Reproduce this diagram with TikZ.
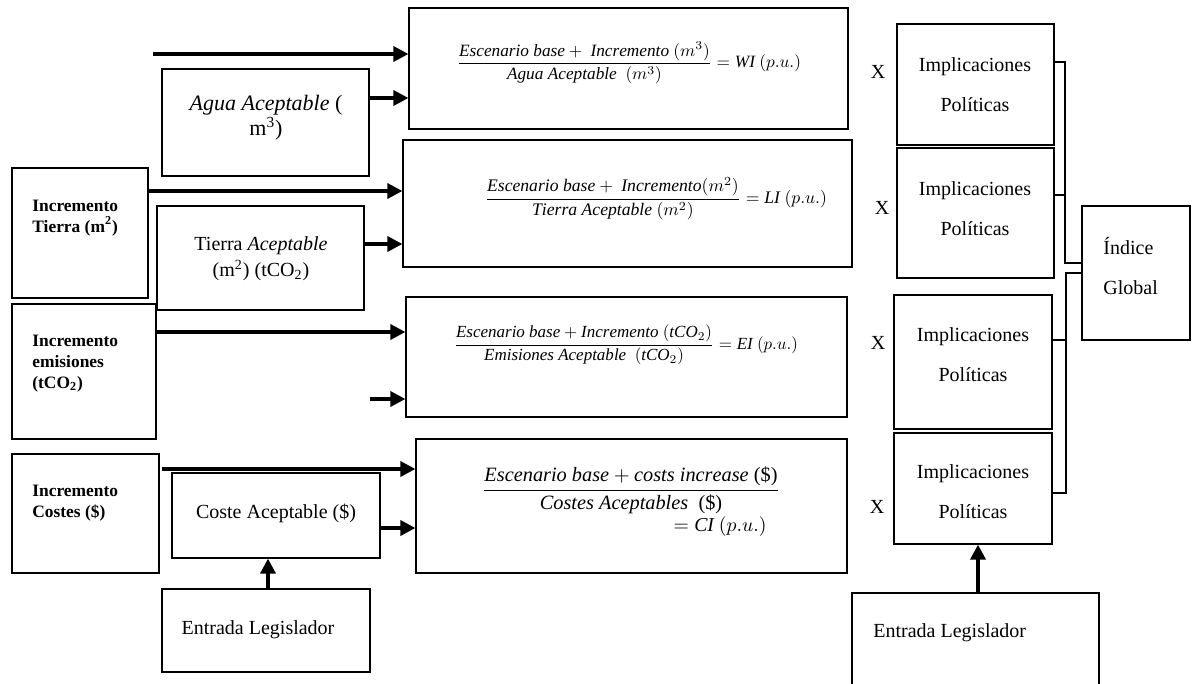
\documentclass[tikz,border=0pt]{standalone}
\usepackage{amsmath}
\usepackage{graphicx}
\usepackage{fontspec}
\setmainfont{Liberation Serif}
\usetikzlibrary{arrows.meta,fit,calc}
\tikzset{
  box/.style={draw, line width=0.6pt, inner sep=0pt},
  txt/.style={inner sep=0pt, font=\fontsize{10}{12}\selectfont, align=center},
  bold/.style={inner sep=0pt, font=\fontsize{8.7}{10.5}\selectfont\bfseries, align=left},
  arr/.style={line width=1.7pt, -{Triangle[length=7.5pt,width=7.5pt]}},
  conn/.style={line width=0.6pt}
}
\begin{document}
\begin{tikzpicture}[x=0.5pt,y=-0.5pt]
\useasboundingbox (0,0) rectangle (1192,684);
\clip (0,0) rectangle (1192,684);
% boxes
\node[box, fit={(409,8)(848,129)}] (wi) {};
\node[box, fit={(403,140)(852,267)}] (li) {};
\node[box, fit={(406,297)(847,417)}] (ei) {};
\node[box, fit={(416,439)(847,573)}] (ci) {};
\node[box, fit={(162,69)(369,176)}] (agua) {};
\node[box, fit={(12,168)(148,298)}] (itierra) {};
\node[box, fit={(157,206)(364,310)}] (tacc) {};
\node[box, fit={(12,304)(156,439)}] (iemis) {};
\node[box, fit={(12,454)(159,573)}] (icost) {};
\node[box, fit={(172,473)(380,558)}] (coste) {};
\node[box, fit={(162,589)(370,672)}] (entL) {};
\node[box, fit={(897,24)(1054,145)}] (imp1) {};
\node[box, fit={(897,148)(1054,278)}] (imp2) {};
\node[box, fit={(894,295)(1052,429)}] (imp3) {};
\node[box, fit={(894,433)(1052,544)}] (imp4) {};
\node[box, fit={(1082,206)(1190,340)}] (indice) {};
\node[box, fit={(852,593)(1099,700)}] (entR) {};
% formulas
\node[inner sep=0pt] (fwi) at (629,63) {\resizebox{172pt}{!}{$\dfrac{\mathit{Escenario\ base}+\ \mathit{Incremento}\ (m^3)}{\mathit{Agua\ Aceptable}\ \ (m^3)}=\mathit{WI}\ (p.u.)$}};
\node[inner sep=0pt] (fli) at (656,199) {\resizebox{171pt}{!}{$\dfrac{\mathit{Escenario\ base}+\ \mathit{Incremento}(m^2)}{\mathit{Tierra\ Aceptable}\ (m^2)}=\mathit{LI}\ (p.u.)$}};
\node[inner sep=0pt] (fei) at (626,345) {\resizebox{172pt}{!}{$\dfrac{\mathit{Escenario\ base}+\mathit{Incremento}\ (\mathit{tCO}_2)}{\mathit{Emisiones\ Aceptable}\ \ (\mathit{tCO}_2)}=\mathit{EI}\ (p.u.)$}};
\node[inner sep=0pt] (fci) at (631,490) {\resizebox{149pt}{!}{$\dfrac{\mathit{Escenario\ base}+\mathit{costs\ increase}\ \mbox{(\$)}}{\mathit{Costes\ Aceptables}\ \ \mbox{(\$)}}$}};
\node[inner sep=0pt] (fci2) at (720,527) {\resizebox{46.5pt}{!}{$=\mathit{CI}\ (p.u.)$}};
% left texts
\node[txt, font=\fontsize{11}{9.5}\selectfont] (aguaT) at (266,118) {$\mathit{Agua\ Aceptable}$ (\\m\textsuperscript{3})};
\node[txt, font=\fontsize{10}{13}\selectfont] (taccT) at (261,259) {Tierra $\mathit{Aceptable}$\\(m\textsuperscript{2}) (tCO\textsubscript{2})};
\node[bold, anchor=west] (itierraT) at (32,218) {Incremento\\Tierra (m\textsuperscript{2})};
\node[bold, anchor=west] (iemisT) at (32,364) {Incremento\\emisiones\\(tCO\textsubscript{2})};
\node[bold, anchor=west] (icostT) at (32,503) {Incremento\\Costes (\$)};
\node[txt] (costeT) at (276,513) {Coste Aceptable (\$)};
\node[txt] (entLT) at (258,630) {Entrada Legislador};
\node[txt, anchor=west] (entRT) at (873,633) {Entrada Legislador};
% right texts
\node[txt, font=\fontsize{10}{20}\selectfont] (imp1T) at (975,85) {Implicaciones\\Políticas};
\node[txt, font=\fontsize{10}{20}\selectfont] (imp2T) at (975,209) {Implicaciones\\Políticas};
\node[txt, font=\fontsize{10}{20}\selectfont] (imp3T) at (973,355) {Implicaciones\\Políticas};
\node[txt, font=\fontsize{10}{20}\selectfont] (imp4T) at (973,492) {Implicaciones\\Políticas};
\node[txt, font=\fontsize{10}{20}\selectfont, align=left, anchor=west] (indiceT) at (1103,266) {Índice\\Global};
\node[txt] (x1) at (878,72) {X};
\node[txt] (x2) at (882,208) {X};
\node[txt] (x3) at (878,343) {X};
\node[txt] (x4) at (877,507) {X};
% coordinates
\coordinate (topstart) at (153,54);
\coordinate (eistart) at (370,399);
\coordinate (cistart) at (162,469);
\coordinate (y98) at (0,98);
\coordinate (y191) at (0,191);
\coordinate (y244) at (0,244);
\coordinate (y332) at (0,332);
\coordinate (y528) at (0,528);
\coordinate (x268) at (268,0);
\coordinate (x978) at (978,0);
\coordinate (ja) at (1065,62);
\coordinate (jb) at (1065,263);
\coordinate (jc) at (1066,273);
\coordinate (jd) at (1066,493);
% arrows
\draw[arr] (topstart) -- (wi.west |- topstart);
\draw[arr] (agua.east |- y98) -- (wi.west |- y98);
\draw[arr] (itierra.east |- y191) -- (li.west |- y191);
\draw[arr] (tacc.east |- y244) -- (li.west |- y244);
\draw[arr] (iemis.east |- y332) -- (ei.west |- y332);
\draw[arr] (eistart) -- (ei.west |- eistart);
\draw[arr] (cistart) -- (ci.west |- cistart);
\draw[arr] (coste.east |- y528) -- (ci.west |- y528);
\draw[arr] (entL.north -| x268) -- (coste.south -| x268);
\draw[arr] (entR.north -| x978) -- (imp4.south -| x978);
% right connectors
\draw[conn] (imp1.east |- ja) -- (ja) -- (jb) -- (indice.west |- jb);
\draw[conn] (imp2.east |- 0,195) -- (1065,195);
\draw[conn] (indice.west |- jc) -- (jc) -- (jd) -- (imp4.east |- jd);
\draw[conn] (imp3.east |- 0,340) -- (1065,340);
\end{tikzpicture}
\end{document}
